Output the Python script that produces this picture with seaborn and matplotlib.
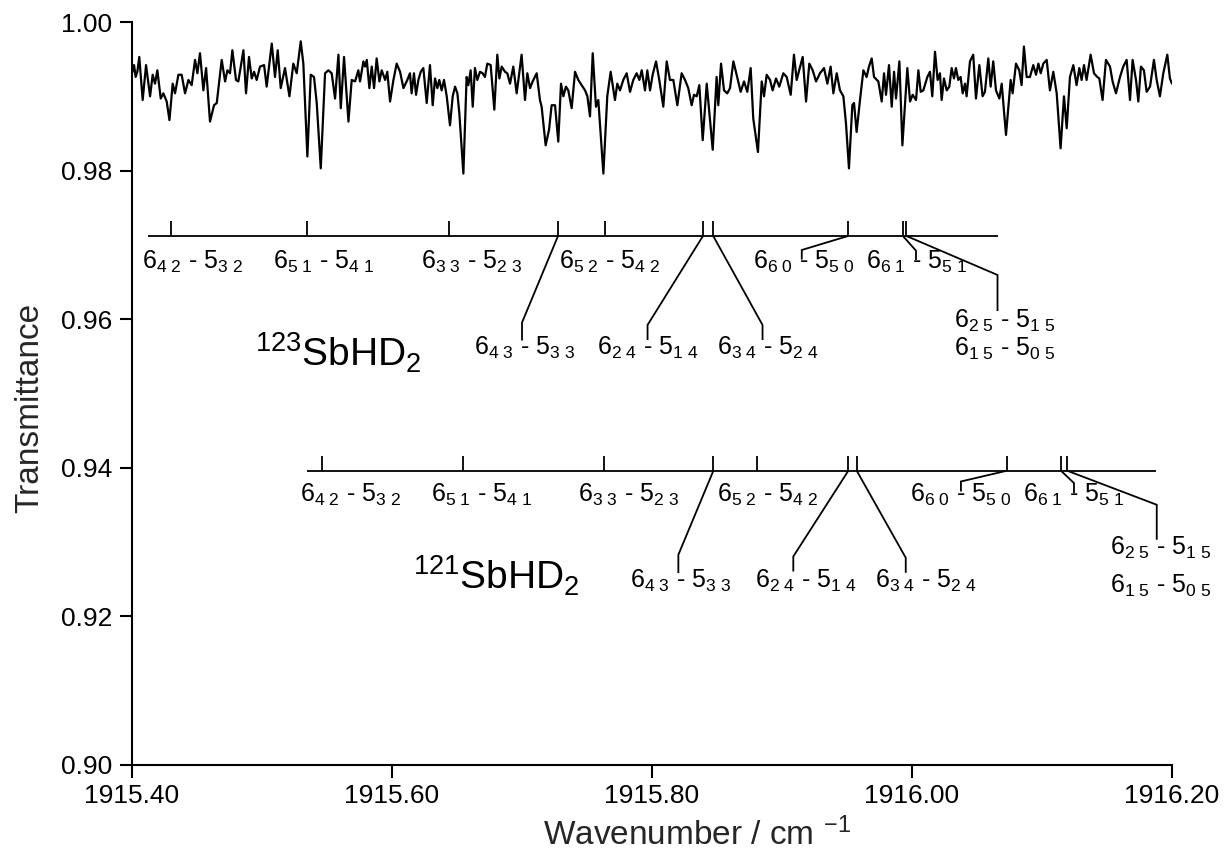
import matplotlib
matplotlib.use("Agg")
import matplotlib.pyplot as plt
import numpy as np
import pandas as pd
import seaborn as sns
from matplotlib.ticker import FormatStrFormatter, FixedLocator

# ---------------- data ----------------
wavenumber = [
1915.4000, 1915.4016, 1915.4028, 1915.4041, 1915.4056, 1915.4082, 1915.4108, 1915.4139, 1915.4159, 1915.4177,
1915.4195, 1915.4221, 1915.4241, 1915.4267, 1915.4288, 1915.4313, 1915.4331, 1915.4357, 1915.4382, 1915.4408,
1915.4434, 1915.4459, 1915.4485, 1915.4503, 1915.4523, 1915.4549, 1915.4570, 1915.4600, 1915.4631, 1915.4652,
1915.4690, 1915.4716, 1915.4734, 1915.4754, 1915.4772, 1915.4800, 1915.4818, 1915.4857, 1915.4877, 1915.4900,
1915.4921, 1915.4939, 1915.4959, 1915.4985, 1915.5016, 1915.5036, 1915.5075, 1915.5100, 1915.5121, 1915.5144,
1915.5177, 1915.5211, 1915.5241, 1915.5267, 1915.5298, 1915.5318, 1915.5349, 1915.5375, 1915.5400, 1915.5421,
1915.5452, 1915.5485, 1915.5511, 1915.5536, 1915.5562, 1915.5588, 1915.5606, 1915.5631, 1915.5665, 1915.5690,
1915.5716, 1915.5741, 1915.5754, 1915.5780, 1915.5793, 1915.5806, 1915.5826, 1915.5844, 1915.5862, 1915.5882,
1915.5903, 1915.5921, 1915.5947, 1915.5964, 1915.5985, 1915.6011, 1915.6036, 1915.6062, 1915.6088, 1915.6118,
1915.6138, 1915.6151, 1915.6169, 1915.6185, 1915.6203, 1915.6221, 1915.6241, 1915.6267, 1915.6292, 1915.6313,
1915.6331, 1915.6349, 1915.6364, 1915.6382, 1915.6400, 1915.6421, 1915.6446, 1915.6467, 1915.6485, 1915.6503,
1915.6518, 1915.6549, 1915.6574, 1915.6587, 1915.6605, 1915.6621, 1915.6638, 1915.6656, 1915.6677, 1915.6697,
1915.6715, 1915.6733, 1915.6759, 1915.6787, 1915.6810, 1915.6826, 1915.6844, 1915.6869, 1915.6887, 1915.6908,
1915.6933, 1915.6959, 1915.6997, 1915.7023, 1915.7041, 1915.7062, 1915.7082, 1915.7113, 1915.7138, 1915.7151,
1915.7182, 1915.7208, 1915.7228, 1915.7254, 1915.7279, 1915.7300, 1915.7318, 1915.7338, 1915.7356, 1915.7382,
1915.7408, 1915.7433, 1915.7459, 1915.7485, 1915.7503, 1915.7523, 1915.7544, 1915.7569, 1915.7587, 1915.7626,
1915.7656, 1915.7682, 1915.7715, 1915.7733, 1915.7754, 1915.7779, 1915.7805, 1915.7831, 1915.7856, 1915.7882,
1915.7903, 1915.7921, 1915.7946, 1915.7964, 1915.7985, 1915.8005, 1915.8031, 1915.8056, 1915.8087, 1915.8113,
1915.8138, 1915.8164, 1915.8195, 1915.8228, 1915.8254, 1915.8279, 1915.8305, 1915.8323, 1915.8344, 1915.8364,
1915.8390, 1915.8421, 1915.8467, 1915.8497, 1915.8510, 1915.8531, 1915.8554, 1915.8579, 1915.8600, 1915.8626,
1915.8651, 1915.8682, 1915.8708, 1915.8733, 1915.8759, 1915.8779, 1915.8815, 1915.8844, 1915.8862, 1915.8882,
1915.8908, 1915.8928, 1915.8954, 1915.8979, 1915.9010, 1915.9036, 1915.9067, 1915.9092, 1915.9113, 1915.9159,
1915.9185, 1915.9210, 1915.9236, 1915.9262, 1915.9292, 1915.9323, 1915.9349, 1915.9374, 1915.9395, 1915.9421,
1915.9446, 1915.9472, 1915.9492, 1915.9515, 1915.9541, 1915.9554, 1915.9574, 1915.9600, 1915.9626, 1915.9651,
1915.9669, 1915.9690, 1915.9708, 1915.9741, 1915.9767, 1915.9785, 1915.9800, 1915.9823, 1915.9844, 1915.9862,
1915.9877, 1915.9903, 1915.9926, 1915.9964, 1915.9985, 1916.0005, 1916.0031, 1916.0049, 1916.0067, 1916.0087,
1916.0118, 1916.0138, 1916.0156, 1916.0177, 1916.0197, 1916.0215, 1916.0228, 1916.0246, 1916.0267, 1916.0287,
1916.0305, 1916.0323, 1916.0338, 1916.0356, 1916.0374, 1916.0390, 1916.0408, 1916.0420, 1916.0446, 1916.0471,
1916.0492, 1916.0518, 1916.0543, 1916.0561, 1916.0587, 1916.0605, 1916.0625, 1916.0646, 1916.0672, 1916.0690,
1916.0723, 1916.0759, 1916.0774, 1916.0800, 1916.0825, 1916.0843, 1916.0861, 1916.0882, 1916.0907, 1916.0933,
1916.0954, 1916.0972, 1916.0990, 1916.1010, 1916.1036, 1916.1061, 1916.1087, 1916.1113, 1916.1143, 1916.1169,
1916.1190, 1916.1215, 1916.1241, 1916.1266, 1916.1287, 1916.1305, 1916.1323, 1916.1343, 1916.1374, 1916.1400,
1916.1425, 1916.1441, 1916.1466, 1916.1492, 1916.1523, 1916.1543, 1916.1569, 1916.1600, 1916.1625, 1916.1651,
1916.1677, 1916.1697, 1916.1723, 1916.1741, 1916.1761, 1916.1784, 1916.1805, 1916.1831, 1916.1861, 1916.1882,
1916.1907, 1916.1933, 1916.1964, 1916.1984, 1916.2000]

transmittance = [
.9931, .9942, .9926, .9933, .9953, .9895, .9942, .9900, .9929, .9917,
.9935, .9897, .9904, .9893, .9868, .9917, .9904, .9929, .9929, .9904,
.9922, .9915, .9949, .9931, .9958, .9908, .9938, .9866, .9888, .9891,
.9949, .9920, .9935, .9931, .9962, .9922, .9920, .9962, .9904, .9953,
.9924, .9933, .9922, .9940, .9942, .9913, .9971, .9926, .9962, .9911,
.9938, .9900, .9944, .9931, .9974, .9944, .9819, .9929, .9926, .9891,
.9803, .9931, .9935, .9931, .9897, .9956, .9884, .9953, .9866, .9922,
.9920, .9935, .9920, .9947, .9940, .9949, .9911, .9940, .9911, .9951,
.9920, .9935, .9922, .9933, .9893, .9922, .9944, .9933, .9911, .9922,
.9931, .9904, .9931, .9902, .9922, .9933, .9938, .9891, .9942, .9888,
.9924, .9911, .9922, .9908, .9922, .9900, .9861, .9900, .9913, .9904,
.9877, .9796, .9926, .9915, .9935, .9886, .9938, .9922, .9933, .9931,
.9926, .9944, .9942, .9882, .9956, .9924, .9940, .9933, .9931, .9917,
.9940, .9904, .9956, .9895, .9931, .9911, .9920, .9931, .9895, .9886,
.9834, .9855, .9888, .9888, .9839, .9917, .9900, .9913, .9908, .9884,
.9933, .9922, .9915, .9908, .9900, .9873, .9958, .9886, .9895, .9796,
.9900, .9933, .9895, .9917, .9908, .9922, .9931, .9906, .9922, .9931,
.9922, .9935, .9908, .9935, .9908, .9929, .9947, .9922, .9886, .9947,
.9922, .9922, .9888, .9931, .9922, .9911, .9888, .9902, .9900, .9915,
.9841, .9917, .9828, .9926, .9888, .9944, .9908, .9904, .9911, .9947,
.9929, .9906, .9920, .9906, .9938, .9870, .9825, .9920, .9900, .9929,
.9922, .9908, .9924, .9913, .9931, .9926, .9902, .9956, .9922, .9953,
.9893, .9944, .9935, .9920, .9931, .9938, .9917, .9940, .9904, .9931,
.9908, .9900, .9864, .9803, .9888, .9891, .9852, .9895, .9935, .9926,
.9940, .9951, .9926, .9920, .9893, .9931, .9902, .9942, .9886, .9933,
.9897, .9947, .9834, .9938, .9893, .9902, .9895, .9935, .9906, .9908,
.9926, .9933, .9900, .9960, .9922, .9931, .9895, .9924, .9908, .9913,
.9938, .9924, .9938, .9922, .9926, .9904, .9917, .9900, .9947, .9956,
.9897, .9942, .9900, .9906, .9951, .9913, .9947, .9908, .9897, .9917,
.9848, .9922, .9904, .9944, .9935, .9915, .9967, .9926, .9926, .9942,
.9929, .9944, .9931, .9944, .9949, .9908, .9933, .9904, .9830, .9900,
.9857, .9926, .9942, .9915, .9938, .9922, .9942, .9922, .9956, .9931,
.9926, .9924, .9895, .9949, .9940, .9920, .9904, .9926, .9940, .9949,
.9895, .9949, .9922, .9893, .9940, .9935, .9906, .9913, .9949, .9922,
.9900, .9931, .9956, .9924, .9917]

# rotational assignments (upper level - lower level), J Ka Kc
upper_levels = ["6 42", "6 51", "6 33", "6 43", "6 52", "6 24", "6 34", "6 60", "6 61", "6 25", "6 15"]
lower_levels = ["5 32", "5 41", "5 23", "5 33", "5 42", "5 14", "5 24", "5 50", "5 51", "5 15", "5 05"]

# calculated line positions (cm-1) for the two isotopologues
sb123_lines = [1915.4297, 1915.5344, 1915.6440, 1915.7277, 1915.7635,
               1915.8392, 1915.8471, 1915.9509, 1915.9930, 1915.9957]
sb121_lines = [1915.5464, 1915.6544, 1915.7633, 1915.8472, 1915.8805,
               1915.9510, 1915.9575, 1916.0728, 1916.1146, 1916.1195]
sb123_span = [1915.4123, 1916.0658]
sb121_span = [1915.5344, 1916.1877]
sb123_level = 0.9712
sb121_level = 0.9396

species = ["$^{123}$SbHD$_2$", "$^{121}$SbHD$_2$"]
x_ticks = [1915.40, 1915.60, 1915.80, 1916.00, 1916.20]
y_ticks = [0.90, 0.92, 0.94, 0.96, 0.98, 1.00]

# ---------------- layout (pixel offsets from each line's tick foot) ----------------
# (label dx, label baseline dy, leader polyline)
TOP_LAYOUT = [
    (-28.6, 33, None), (-33.7, 33, None), (-28.2, 33, None),
    (-83.6, 119, [(-36, 86.6), (-36, 104.5)]),
    (-45.8, 33, None),
    (-106.4, 119, [(-55.4, 89), (-55.4, 104)]),
    (3.8, 119, [(49.3, 89), (49.3, 104)]),
    (-95.3, 33, [(-46.4, 14), (-46.4, 23.6)]),
    (-36.9, 33, [(13.1, 14.7), (13.1, 24)]),
    (47.2, 92, [(91.1, 39), (91.1, 75)]),
    (47.2, 120, None),
]
LOW_LAYOUT = [
    (-22.3, 31, None), (-32.0, 31, None), (-26.6, 31, None),
    (-83.3, 117, [(-35, 84), (-35, 102.3)]),
    (-40.0, 31, None),
    (-93.0, 117, [(-55, 85.7), (-55, 100.7)]),
    (18.3, 117, [(49, 87), (49, 102)]),
    (-96.7, 31, [(-45.7, 10.7), (-45.7, 20.7)]),
    (-37.7, 31, [(13, 12.3), (13, 22.3)]),
    (42.7, 84, [(89.4, 34), (89.4, 69)]),
    (42.7, 122, None),
]
SPECIES_OFFSET = [(107, 131), (106.3, 119)]  # from bar start
TICK_H = 15

# ---------------- style ----------------
sns.set_theme(style="ticks")
plt.rcParams["font.family"] = ["Liberation Sans", "DejaVu Sans"]
plt.rcParams.update({
    "mathtext.fontset": "custom",
    "mathtext.rm": "Liberation Sans",
    "mathtext.it": "Liberation Sans:italic",
    "mathtext.bf": "Liberation Sans:bold",
    "mathtext.default": "regular",
    "axes.edgecolor": "black",
    "text.color": "black",
    "xtick.color": "black",
    "ytick.color": "black",
})

fig = plt.figure(figsize=(12.24, 8.5), dpi=100)
ax = fig.add_axes([132 / 1224, 1 - 765 / 850, 1040 / 1224, 743 / 850])

df = pd.DataFrame({"wavenumber": wavenumber, "transmittance": transmittance})
sns.lineplot(data=df, x="wavenumber", y="transmittance", ax=ax, color="black",
             lw=1.6, estimator=None, sort=False)

ax.set_xlim(x_ticks[0], x_ticks[-1])
ax.set_ylim(y_ticks[0], y_ticks[-1])
ax.xaxis.set_major_locator(FixedLocator(x_ticks))
ax.yaxis.set_major_locator(FixedLocator(y_ticks))
ax.xaxis.set_major_formatter(FormatStrFormatter("%.2f"))
ax.yaxis.set_major_formatter(FormatStrFormatter("%.2f"))
ax.tick_params(axis="both", direction="out", length=9, width=1.5, labelsize=19, pad=5)
sns.despine(ax=ax)
for s in ("left", "bottom"):
    ax.spines[s].set_linewidth(1.5)

ax.set_xlabel("Wavenumber / cm $^{-1}$", fontsize=24)
ax.set_ylabel("Transmittance", fontsize=24)
ax.xaxis.set_label_coords(0.543, -0.071)
ax.yaxis.set_label_coords(-0.083, 0.48)


def offset(x, y, dx, dy):
    X, Y = ax.transData.transform((x, y))
    return ax.transData.inverted().transform((X + dx, Y - dy))


def level_tex(s):
    j, k = s.split()
    return "%s_{%s\\ %s}" % (j, k[0], k[1])


line_kw = dict(color="black", lw=1.3, solid_capstyle="butt", solid_joinstyle="miter")
for lines, span, lvl, layout, name, (sdx, sdy) in [
        (sb123_lines, sb123_span, sb123_level, TOP_LAYOUT, species[0], SPECIES_OFFSET[0]),
        (sb121_lines, sb121_span, sb121_level, LOW_LAYOUT, species[1], SPECIES_OFFSET[1])]:
    ax.plot(span, [lvl, lvl], **line_kw)
    for x in lines:
        x2, y2 = offset(x, lvl, 0, -TICK_H)
        ax.plot([x, x], [lvl, y2], **line_kw)
    for i, (u, l) in enumerate(zip(upper_levels, lower_levels)):
        x = lines[min(i, len(lines) - 1)]
        dx, dy, leader = layout[i]
        if leader:
            pts = [(x, lvl)] + [tuple(offset(x, lvl, a, b)) for a, b in leader]
            ax.plot([p[0] for p in pts], [p[1] for p in pts], **line_kw)
        tx, ty = offset(x, lvl, dx, dy)
        ax.text(tx, ty, "$%s$ - $%s$" % (level_tex(u), level_tex(l)),
                ha="left", va="baseline", fontsize=18)
    nx, ny = offset(span[0], lvl, sdx, sdy)
    ax.text(nx, ny, name, ha="left", va="baseline", fontsize=28)

fig.savefig("out.png", dpi=100, facecolor="white")
